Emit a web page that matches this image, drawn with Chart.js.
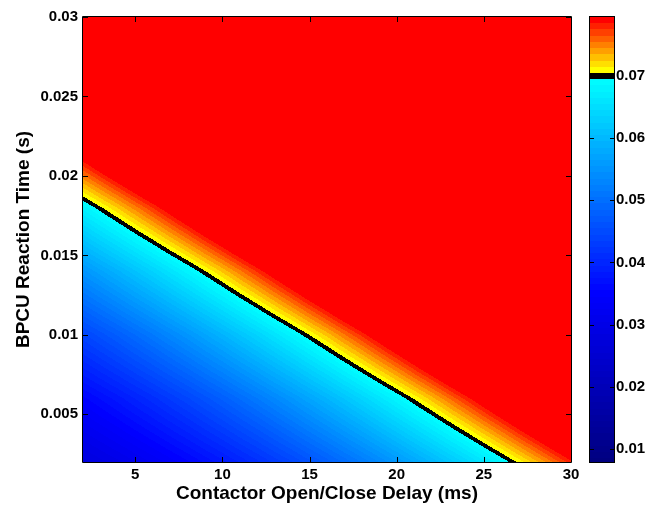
<!DOCTYPE html>
<html>
<head>
<meta charset="utf-8">
<script src="https://cdn.jsdelivr.net/npm/chart.js@4.4.1/dist/chart.umd.min.js"></script>
<style>
html,body{margin:0;padding:0;background:#fff;}
#wrap{width:647px;height:506px;}
</style>
</head>
<body>
<div id="wrap"><canvas id="c" width="647" height="506"></canvas></div>
<script>
// ---------- data ----------
const delayMs = [2, 4, 6, 8, 10, 12, 14, 16, 18, 20, 22, 24, 26, 28, 30];
const reactionTime = [0.002, 0.006, 0.010, 0.014, 0.018, 0.022, 0.026, 0.030];
// one row per reactionTime value, one column per delayMs value
const zRow0002 = [0.02800,0.03021,0.03263,0.03526,0.03810,0.04115,0.04441,0.04789,0.05157,0.05547,0.05958,0.06390,0.06843,0.07317,0.07813];
const zRow0006 = [0.03517,0.03801,0.04106,0.04431,0.04778,0.05146,0.05535,0.05946,0.06377,0.06830,0.07303,0.07798,0.08314,0.08851,0.09409];
const zRow0010 = [0.04421,0.04768,0.05135,0.05524,0.05933,0.06364,0.06816,0.07289,0.07783,0.08298,0.08835,0.09392,0.09971,0.10571,0.11192];
const zRow0014 = [0.05512,0.05921,0.06351,0.06802,0.07275,0.07768,0.08283,0.08819,0.09376,0.09954,0.10553,0.11173,0.11815,0.12477,0.13161];
const zRow0018 = [0.06789,0.07260,0.07753,0.08267,0.08803,0.09359,0.09936,0.10535,0.11155,0.11795,0.12457,0.13141,0.13845,0.14570,0.15317];
const zRow0022 = [0.08252,0.08787,0.09343,0.09919,0.10517,0.11136,0.11777,0.12438,0.13120,0.13824,0.14549,0.15295,0.16062,0.16850,0.17659];
const zRow0026 = [0.09902,0.10499,0.11118,0.11757,0.12418,0.13100,0.13803,0.14527,0.15272,0.16039,0.16826,0.17635,0.18465,0.19316,0.20188];
const zRow0030 = [0.11738,0.12398,0.13080,0.13782,0.14506,0.15250,0.16016,0.16803,0.17611,0.18440,0.19290,0.20162,0.21054,0.21968,0.22903];
const zRows = [zRow0002, zRow0006, zRow0010, zRow0014, zRow0018, zRow0022, zRow0026, zRow0030];

const xTicks = [5, 10, 15, 20, 25, 30];
const xTickLabels = ['5', '10', '15', '20', '25', '30'];
const yTicks = [0.005, 0.010, 0.015, 0.020, 0.025, 0.030];
const yTickLabels = ['0.005', '0.01', '0.015', '0.02', '0.025', '0.03'];
const cbTicks = [0.01, 0.02, 0.03, 0.04, 0.05, 0.06, 0.07];
const cbTickLabels = ['0.01', '0.02', '0.03', '0.04', '0.05', '0.06', '0.07'];
const levelStep = 0.001;
const cbRange = [0.0079, 0.0795];
const xTitle = 'Contactor Open/Close Delay (ms)';
const yTitle = 'BPCU Reaction Time (s)';

// ---------- helpers ----------
function zAt(xv, yv) {
  const nx = delayMs.length, ny = reactionTime.length;
  let i = 0; while (i < nx - 2 && xv > delayMs[i + 1]) i++;
  let j = 0; while (j < ny - 2 && yv > reactionTime[j + 1]) j++;
  const tx = (xv - delayMs[i]) / (delayMs[i + 1] - delayMs[i]);
  const ty = (yv - reactionTime[j]) / (reactionTime[j + 1] - reactionTime[j]);
  const a = zRows[j][i], b = zRows[j][i + 1], c = zRows[j + 1][i], d = zRows[j + 1][i + 1];
  return (a * (1 - tx) + b * tx) * (1 - ty) + (c * (1 - tx) + d * tx) * ty;
}
function levelColor(v) {
  const L = Math.floor((v - levelStep / 2) / levelStep) + 1; // band centre index
  const c = L * levelStep;
  if (L >= 80) return [255, 0, 0];
  if (L === 70) return [0, 0, 0];
  if (L > 70) { const k = L - 71; return [255, Math.round(255 * (1 - k / 8)), 0]; }
  if (c < 0.035) {
    const b = 128 + Math.max(0, (c - 0.008)) / 0.027 * 127;
    return [0, 0, Math.round(Math.min(255, b))];
  }
  return [0, Math.round(Math.min(255, (c - 0.035) / 0.0345 * 255)), 255];
}

const nodePoints = [];
reactionTime.forEach((yv, j) => delayMs.forEach((xv, i) => nodePoints.push({x: xv, y: yv, z: zRows[j][i]})));

const FONT = "'Liberation Sans', Arial, Helvetica, sans-serif";

const contourPlugin = {
  id: 'contourFill',
  beforeDatasetsDraw(chart) {
    const {ctx, chartArea: a, scales} = chart;
    const xs = scales.x, ys = scales.y, cb = scales.cb;
    const L0 = Math.round(a.left), T0 = Math.round(a.top);
    const w = Math.round(a.right) - L0, h = Math.round(a.bottom) - T0;
    const off = document.createElement('canvas');
    off.width = w; off.height = h;
    const octx = off.getContext('2d');
    const img = octx.createImageData(w, h);
    const xVals = [];
    for (let i = 0; i < w; i++) xVals.push(xs.getValueForPixel(L0 + i + 0.5));
    for (let j = 0; j < h; j++) {
      const yv = ys.getValueForPixel(T0 + j + 0.5);
      for (let i = 0; i < w; i++) {
        const col = levelColor(zAt(xVals[i], yv));
        const p = (j * w + i) * 4;
        img.data[p] = col[0]; img.data[p + 1] = col[1]; img.data[p + 2] = col[2]; img.data[p + 3] = 255;
      }
    }
    octx.putImageData(img, 0, 0);
    ctx.save();
    ctx.drawImage(off, L0, T0);

    // colour bar
    const cbL = Math.round(cb.left) + 19, cbW = 24;
    const cT = Math.round(cb.top), cB = Math.round(cb.bottom);
    for (let py = cT; py < cB; py++) {
      const col = levelColor(cb.getValueForPixel(py + 0.5));
      ctx.fillStyle = 'rgb(' + col.join(',') + ')';
      ctx.fillRect(cbL, py, cbW, 1);
    }
    ctx.strokeStyle = '#000';
    ctx.lineWidth = 1;
    ctx.strokeRect(cbL - 0.5, cT - 0.5, cbW + 1, cB - cT + 1);
    ctx.beginPath();
    cb.ticks.forEach(t => {
      const py = Math.round(cb.getPixelForValue(t.value)) + 0.5;
      ctx.moveTo(cbL, py); ctx.lineTo(cbL + 4, py);
      ctx.moveTo(cbL + cbW, py); ctx.lineTo(cbL + cbW - 4, py);
    });
    ctx.stroke();

    // axes box and inward ticks
    ctx.beginPath();
    ctx.rect(L0 - 0.5, T0 - 0.5, w + 1, h + 1);
    xs.ticks.forEach(t => {
      const px = Math.round(xs.getPixelForValue(t.value)) + 0.5;
      ctx.moveTo(px, T0 + h); ctx.lineTo(px, T0 + h - 5);
      ctx.moveTo(px, T0); ctx.lineTo(px, T0 + 5);
    });
    ys.ticks.forEach(t => {
      const py = Math.round(ys.getPixelForValue(t.value)) + 0.5;
      ctx.moveTo(L0, py); ctx.lineTo(L0 + 5, py);
      ctx.moveTo(L0 + w, py); ctx.lineTo(L0 + w - 5, py);
    });
    ctx.stroke();
    ctx.restore();
  }
};

Chart.defaults.color = '#000';
Chart.defaults.font.family = FONT;

const noOverflow = s => { s.paddingTop = 0; s.paddingBottom = 0; };

new Chart(document.getElementById('c'), {
  type: 'scatter',
  data: {
    datasets: [{
      label: 'grid',
      data: nodePoints,
      pointRadius: 0,
      pointHoverRadius: 0,
      showLine: false
    }]
  },
  options: {
    responsive: false,
    animation: false,
    events: [],
    layout: {padding: {top: 17, left: 0, right: 0, bottom: 0}},
    plugins: {legend: {display: false}, tooltip: {enabled: false}},
    scales: {
      x: {
        type: 'linear', position: 'bottom', min: 2, max: 30,
        afterBuildTicks: s => { s.ticks = xTicks.map(v => ({value: v})); },
        afterFit: s => { s.height = 44; s.paddingLeft = 0; s.paddingRight = 0; },
        grid: {display: false, drawTicks: false},
        border: {display: false},
        ticks: {
          autoSkip: false, maxRotation: 0, padding: 4,
          font: {size: 15, weight: 'bold', family: FONT},
          callback: (v, i) => xTickLabels[i]
        },
        title: {display: true, text: xTitle, padding: {top: 0, bottom: 1},
                font: {size: 19, weight: 'bold', family: FONT}}
      },
      y: {
        type: 'linear', position: 'left', min: 0.002, max: 0.03,
        afterBuildTicks: s => { s.ticks = yTicks.map(v => ({value: v})); },
        afterFit: s => { s.width = 83; noOverflow(s); },
        grid: {display: false, drawTicks: false},
        border: {display: false},
        ticks: {
          autoSkip: false, padding: 5,
          font: {size: 15, weight: 'bold', family: FONT},
          callback: (v, i) => yTickLabels[i]
        },
        title: {display: true, text: yTitle, padding: {top: 12, bottom: 0},
                font: {size: 19, weight: 'bold', family: FONT}}
      },
      cb: {
        type: 'linear', position: 'right', min: cbRange[0], max: cbRange[1],
        afterBuildTicks: s => { s.ticks = cbTicks.map(v => ({value: v})); },
        afterFit: s => { s.width = 76; noOverflow(s); },
        grid: {display: false, drawTicks: false},
        border: {display: false},
        ticks: {
          autoSkip: false, padding: 45,
          font: {size: 15, weight: 'bold', family: FONT},
          callback: (v, i) => cbTickLabels[i]
        }
      }
    }
  },
  plugins: [contourPlugin]
});
</script>
</body>
</html>
